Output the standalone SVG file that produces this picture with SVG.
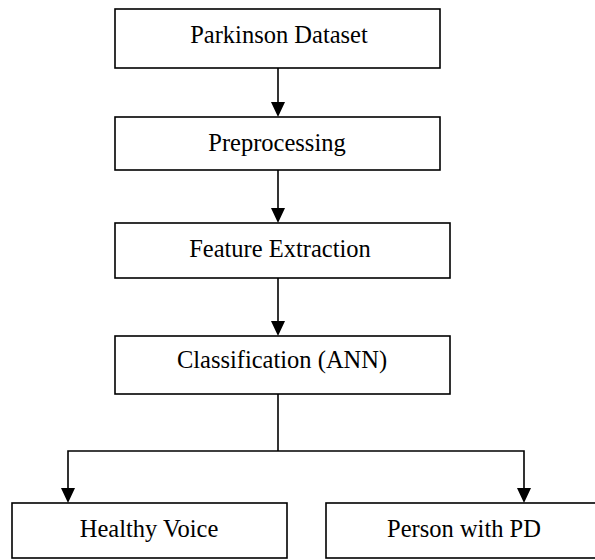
<svg xmlns="http://www.w3.org/2000/svg" width="595" height="560" viewBox="0 0 595 560">
<style>
.box{fill:#fff;stroke:#000;stroke-width:1.6}
.lbl{font-family:"Liberation Serif","Times New Roman",serif;font-size:24.5px;fill:#000;text-anchor:middle}
.con{fill:none;stroke:#000;stroke-width:1.6}
.ah{fill:#000}
</style>
<rect width="595" height="560" fill="#fff"/>
<g id="connectors">
<line class="con" x1="278" y1="68" x2="278" y2="104"/>
<line class="con" x1="278" y1="170" x2="278" y2="210"/>
<line class="con" x1="278" y1="278" x2="278" y2="323"/>
<line class="con" x1="278" y1="394" x2="278" y2="451"/>
<polyline class="con" points="68,490 68,451 524,451 524,490"/>
<polygon class="ah" points="271,102 285,102 278,117"/>
<polygon class="ah" points="271,208 285,208 278,223"/>
<polygon class="ah" points="271,321 285,321 278,336"/>
<polygon class="ah" points="61,488 75,488 68,503"/>
<polygon class="ah" points="517,488 531,488 524,503"/>
</g>
<g id="n1"><rect class="box" x="115" y="9" width="325" height="59"/><text class="lbl" x="279" y="43">Parkinson Dataset</text></g>
<g id="n2"><rect class="box" x="115" y="117" width="325" height="53"/><text class="lbl" x="277" y="151">Preprocessing</text></g>
<g id="n3"><rect class="box" x="115" y="223" width="335" height="55"/><text class="lbl" x="280" y="257">Feature Extraction</text></g>
<g id="n4"><rect class="box" x="115" y="336" width="335" height="58"/><text class="lbl" x="282" y="368">Classification (ANN)</text></g>
<g id="n5"><rect class="box" x="12" y="503" width="275" height="55"/><text class="lbl" x="149" y="537">Healthy Voice</text></g>
<g id="n6"><rect class="box" x="326" y="503" width="275" height="55"/><text class="lbl" x="464" y="537">Person with PD</text></g>
</svg>
